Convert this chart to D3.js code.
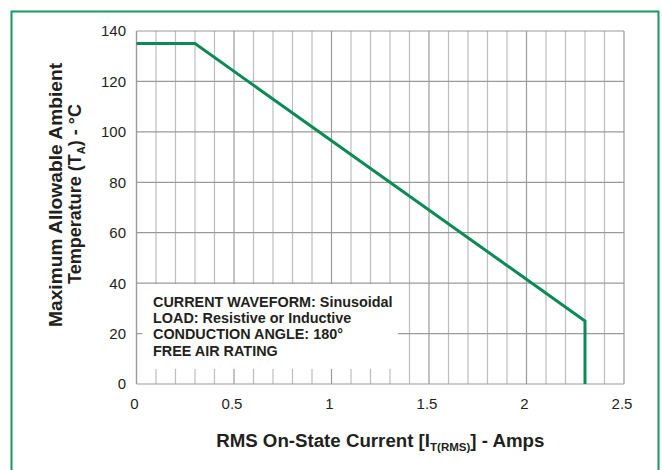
<!DOCTYPE html>
<html>
<head>
<meta charset="utf-8">
<script src="https://cdn.jsdelivr.net/npm/d3@7"></script>
<style>
  body { margin: 0; background: #fff; }
  text { font-family: "Liberation Sans", Arial, Helvetica, sans-serif; fill: #231f20; }
</style>
</head>
<body>
<div id="vis"></div>
<script>
// data
let xTicks = [0, 0.5, 1, 1.5, 2, 2.5]
let yTicks = [0, 20, 40, 60, 80, 100, 120, 140]
let currentAmps = [0, 0.3, 2.3, 2.3]
let ambientTemp = [135, 135, 25, 0]
let noteLines = [
  'CURRENT WAVEFORM: Sinusoidal',
  'LOAD: Resistive or Inductive',
  'CONDUCTION ANGLE: 180°',
  'FREE AIR RATING'
]

let width = 662, height = 470
let margin = {top: 31, right: 38, bottom: 86, left: 136.5}

let svg = d3.select('#vis')
  .append('svg')
  .attr('width', width)
  .attr('height', height)

// green frame, open at the bottom
svg.append('path')
  .attr('d', `M11.5,${height + 2}V11.5H658.5V${height + 2}`)
  .attr('fill', 'none')
  .attr('stroke', '#16985f')
  .attr('stroke-width', 2)

let xScale = d3.scaleLinear()
  .domain([0, 2.5])
  .range([margin.left, width - margin.right])

let yScale = d3.scaleLinear()
  .domain([0, 140])
  .range([height - margin.bottom, margin.top])

// grid
let minorX = d3.range(0, 26).map(i => i / 10)
let grid = svg.append('g')

grid.selectAll('.vline')
  .data(minorX)
  .join('line')
  .attr('x1', d => xScale(d))
  .attr('x2', d => xScale(d))
  .attr('y1', yScale(140))
  .attr('y2', yScale(0))
  .attr('stroke', (d, i) => i % 5 === 0 ? '#9a9a9a' : '#bcbcbc')
  .attr('stroke-width', 1.2)

grid.selectAll('.hline')
  .data(yTicks)
  .join('line')
  .attr('x1', xScale(0))
  .attr('x2', xScale(2.5))
  .attr('y1', d => yScale(d))
  .attr('y2', d => yScale(d))
  .attr('stroke', '#9a9a9a')
  .attr('stroke-width', 1.2)

// white note box over the grid
svg.append('rect')
  .attr('x', xScale(0.03))
  .attr('y', yScale(40) + 1)
  .attr('width', xScale(1.34) - xScale(0.03))
  .attr('height', yScale(6) - yScale(40) - 1)
  .attr('fill', '#fff')

// left axis line drawn again over the box
svg.append('line')
  .attr('x1', xScale(0)).attr('x2', xScale(0))
  .attr('y1', yScale(140)).attr('y2', yScale(0))
  .attr('stroke', '#9a9a9a')
  .attr('stroke-width', 1.2)

svg.append('g')
  .selectAll('text')
  .data(noteLines)
  .join('text')
  .attr('x', 153)
  .attr('y', (d, i) => 306.5 + i * 16.4)
  .attr('font-size', 14.4)
  .attr('font-weight', 'bold')
  .text(d => d)

// tick labels
svg.append('g')
  .selectAll('text')
  .data(yTicks)
  .join('text')
  .attr('x', 126)
  .attr('y', d => yScale(d))
  .attr('dy', '0.36em')
  .attr('text-anchor', 'end')
  .attr('font-size', 15)
  .text(d => d)

svg.append('g')
  .selectAll('text')
  .data(xTicks)
  .join('text')
  .attr('x', d => xScale(d) - 2)
  .attr('y', 409)
  .attr('text-anchor', 'middle')
  .attr('font-size', 15)
  .text(d => d)

// derating curve
let line = d3.line()
  .x(d => xScale(d[0]))
  .y(d => yScale(d[1]))

svg.append('path')
  .datum(currentAmps.map((d, i) => [d, ambientTemp[i]]))
  .attr('d', line)
  .attr('fill', 'none')
  .attr('stroke', '#0a8a55')
  .attr('stroke-width', 3)

// axis titles
let xTitle = svg.append('text')
  .attr('x', xScale(1.25))
  .attr('y', 447)
  .attr('text-anchor', 'middle')
  .attr('font-size', 18.7)
  .attr('font-weight', 'bold')
xTitle.append('tspan').text('RMS On-State Current [I')
xTitle.append('tspan').attr('font-size', 11.5).attr('dy', 4).text('T(RMS)')
xTitle.append('tspan').attr('dy', -4).text('] - Amps')

let yTitle = svg.append('text')
  .attr('transform', 'translate(62,195) rotate(-90)')
  .attr('text-anchor', 'middle')
  .attr('font-size', 19.2)
  .attr('font-weight', 'bold')
  .text('Maximum Allowable Ambient')

let yTitle2 = svg.append('text')
  .attr('transform', 'translate(81,194) rotate(-90)')
  .attr('text-anchor', 'middle')
  .attr('font-size', 18)
  .attr('font-weight', 'bold')
yTitle2.append('tspan').text('Temperature (T')
yTitle2.append('tspan').attr('font-size', 11).attr('dy', 4).text('A')
yTitle2.append('tspan').attr('dy', -4).text(') - °C')
</script>
</body>
</html>
